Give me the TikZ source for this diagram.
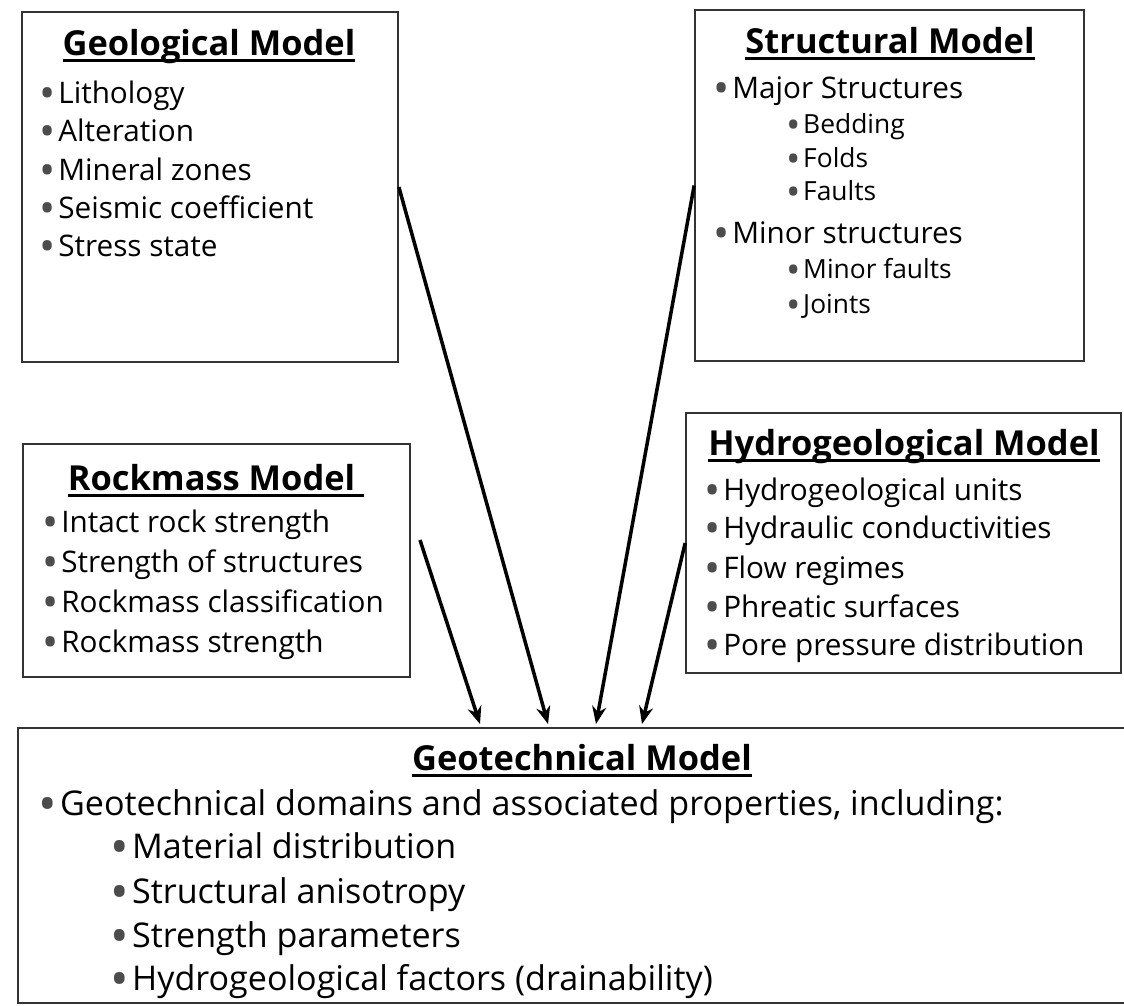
\documentclass[tikz,border=0pt]{standalone}
\usepackage{fontspec}
\setmainfont{Open Sans}
\usetikzlibrary{arrows.meta}
% bullet and underlined heading
\newcommand{\bul}{\makebox[0.64em][l]{\raisebox{-0.2em}{\textcolor{black!70}{\scalebox{1.45}{\textbullet}}}}}
\newcommand{\mtitle}[1]{\setbox0\hbox{#1}\rlap{\rule[-4pt]{\wd0}{1.6pt}}\box0}

\begin{document}
\begin{tikzpicture}[x=0.02cm,y=-0.02cm,
  box/.style={draw=black!80,line width=1pt,inner sep=0pt},
  item/.style={anchor=base west,inner sep=0pt,font=\fontsize{16.9}{20}\selectfont},
  subitem/.style={item,font=\fontsize{15}{18}\selectfont},
  bigitem/.style={item,font=\fontsize{19.4}{23}\selectfont},
  head/.style={anchor=base,inner sep=0pt,font=\fontsize{19.6}{23}\selectfont\bfseries},
  bighead/.style={head,font=\fontsize{19.6}{23}\selectfont\bfseries},
  feed/.style={line width=2pt,-{Stealth[length=10pt,width=8pt]}}]
\useasboundingbox (0,0) rectangle (1124,1005);
\fill[white] (0,0) rectangle (1124,1005);

% boxes
\node[box,minimum width=7.52cm,minimum height=7.0cm] (geo) at (210,187) {};
\node[box,minimum width=7.78cm,minimum height=7.02cm] (struct) at (889.5,185.5) {};
\node[box,minimum width=7.74cm,minimum height=4.66cm] (rock) at (216.5,560.5) {};
\node[box,minimum width=8.7cm,minimum height=5.2cm] (hydro) at (903.5,543) {};
\node[box,minimum width=22.6cm,minimum height=5.5cm] (geotech) at (583,865.5) {};

% geological model
\node[head] (geoT) at (209,55) {\mtitle{Geological Model}};
\node[item] (geo1) at (39,103) {\bul Lithology};
\node[item] (geo2) at (39,141) {\bul Alteration};
\node[item] (geo3) at (39,180) {\bul Mineral zones};
\node[item] (geo4) at (39,218) {\bul Seismic coefficient};
\node[item] (geo5) at (39,256) {\bul Stress state};

% structural model
\node[head] (structT) at (890,53) {\mtitle{Structural Model}};
\node[item] (struct1) at (713,98) {\bul Major Structures};
\node[subitem] (struct2) at (786,133) {\bul Bedding};
\node[subitem] (struct3) at (786,167) {\bul Folds};
\node[subitem] (struct4) at (786,200) {\bul Faults};
\node[item] (struct5) at (713,243) {\bul Minor structures};
\node[subitem] (struct6) at (786,278) {\bul Minor faults};
\node[subitem] (struct7) at (786,313) {\bul Joints};

% rockmass model
\node[head] (rockT) at (216,490) {\mtitle{Rockmass Model\ }};
\node[item] (rock1) at (42,532) {\bul Intact rock strength};
\node[item] (rock2) at (42,572) {\bul Strength of structures};
\node[item] (rock3) at (42,612) {\bul Rockmass classification};
\node[item] (rock4) at (42,652) {\bul Rockmass strength};

% hydrogeological model
\node[head] (hydroT) at (904,455) {\mtitle{Hydrogeological Model}};
\node[item] (hydro1) at (704,500) {\bul Hydrogeological units};
\node[item] (hydro2) at (704,538) {\bul Hydraulic conductivities};
\node[item] (hydro3) at (704,578) {\bul Flow regimes};
\node[item] (hydro4) at (704,617) {\bul Phreatic surfaces};
\node[item] (hydro5) at (704,655) {\bul Pore pressure distribution};

% geotechnical model
\node[bighead] (geotechT) at (582,770) {\mtitle{Geotechnical Model}};
\node[bigitem] (geotech1) at (38,815) {\bul Geotechnical domains and associated properties, including:};
\node[bigitem] (geotech2) at (110,858) {\bul Material distribution};
\node[bigitem] (geotech3) at (110,903) {\bul Structural anisotropy};
\node[bigitem] (geotech4) at (110,947) {\bul Strength parameters};
\node[bigitem] (geotech5) at (110,990) {\bul Hydrogeological factors (drainability)};

% arrows into the geotechnical model
\coordinate (rockOut) at (420,540);
\coordinate (in1) at (480,724);
\coordinate (in2) at (548,724);
\coordinate (in3) at (596,724);
\coordinate (in4) at (642,724);
\draw[feed] (rockOut) -- (in1);
\draw[feed] (geo.east) -- (in2);
\draw[feed] (struct.west) -- (in3);
\draw[feed] (hydro.west) -- (in4);
\end{tikzpicture}
\end{document}
